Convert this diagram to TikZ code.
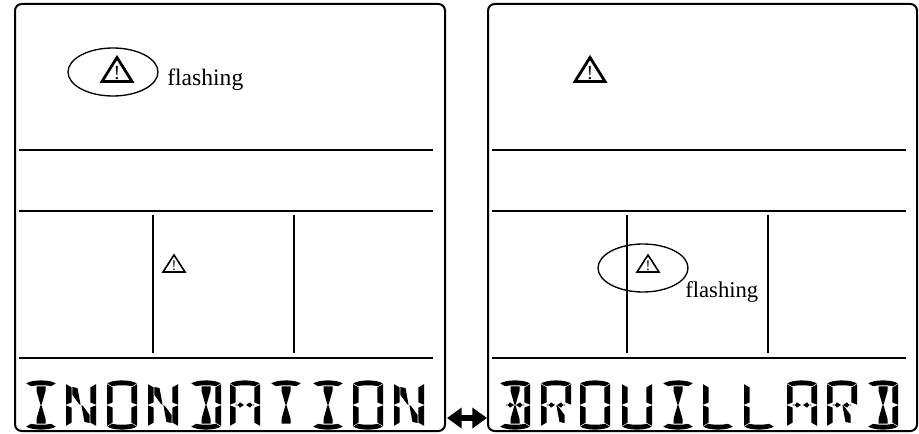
\documentclass[tikz,border=0pt]{standalone}
\usepackage{fontspec}
\setmainfont{Liberation Serif}
\usetikzlibrary{arrows.meta}
\tikzset{
  frame/.style={draw=black,line width=1.5pt,rounded corners=5pt},
  rule/.style={draw=black,line width=1.5pt},
  bubble/.style={draw=black,line width=1pt},
  flash/.style={font=\fontsize{#1}{#1}\selectfont,anchor=base,inner sep=0pt,text=black},
  warnbig/.style={draw=black,line width=2.1pt,miter limit=10},
  warnsmall/.style={draw=black,line width=1.2pt,miter limit=10},
  sega/.style={insert path={(0.3,3.4) .. controls (6,-0.6) and (24,-0.6) .. (29.7,3.4) -- (25,6.2) .. controls (20,5) and (10,5) .. (5,6.2) -- cycle}},
  segd/.style={insert path={(0.3,46.6) .. controls (6,50.6) and (24,50.6) .. (29.7,46.6) -- (25,43.8) .. controls (20,45) and (10,45) .. (5,43.8) -- cycle}},
  segf/.style={insert path={(0,4.2) -- (5.6,7.4) -- (5.6,22.4) -- (0,24.7) -- cycle}},
  sege/.style={insert path={(0,45.8) -- (5.6,42.6) -- (5.6,27.6) -- (0,25.3) -- cycle}},
  segb/.style={insert path={(30,4.2) -- (24.4,7.4) -- (24.4,22.4) -- (30,24.7) -- cycle}},
  segc/.style={insert path={(30,45.8) -- (24.4,42.6) -- (24.4,27.6) -- (30,25.3) -- cycle}},
  segi/.style={insert path={(10.5,6.3) -- (19.5,6.3) -- (19.5,11) -- (15.6,24.7) -- (14.4,24.7) -- (10.5,11) -- cycle}},
  segl/.style={insert path={(10.5,43.7) -- (19.5,43.7) -- (19.5,39) -- (15.6,25.3) -- (14.4,25.3) -- (10.5,39) -- cycle}},
  segh/.style={insert path={(6.4,7) -- (11.5,8) -- (14.6,24.7) -- (13.4,24.4) -- (6.4,15) -- cycle}},
  segm/.style={insert path={(23.6,43) -- (18.5,42) -- (15.4,25.3) -- (16.6,25.6) -- (23.6,35) -- cycle}},
  segg/.style={insert path={(5.6,24.6) -- (8,24.6) -- (10,22.4) -- (14,25) -- (10,27.6) -- (8,25.4) -- (5.6,25.4) -- cycle}},
  segk/.style={insert path={(24.4,24.6) -- (22,24.6) -- (20,22.4) -- (16,25) -- (20,27.6) -- (22,25.4) -- (24.4,25.4) -- cycle}},
}
\newcommand{\lcdglyph}[2]{%
  \begin{scope}[shift={(#1,380)}]
    \foreach \s in {#2}{\fill[black,seg\s];}
  \end{scope}}
\begin{document}
\begin{tikzpicture}[x=0.75pt,y=-0.75pt]
\useasboundingbox (0,0) rectangle (919,434);
% frames
\draw[frame] (15,4) rectangle (445,431);
\draw[frame] (488,4) rectangle (917,431);
% left rules
\draw[rule] (19,150) -- (433,150);
\draw[rule] (19,211) -- (433,211);
\draw[rule] (19,358) -- (433,358);
\draw[rule] (153,215) -- (153,353);
\draw[rule] (294,215) -- (294,353);
% right rules
\draw[rule] (492,150) -- (906,150);
\draw[rule] (492,211) -- (906,211);
\draw[rule] (492,358) -- (906,358);
\draw[rule] (627,215) -- (627,353);
\draw[rule] (768,215) -- (768,353);
% warnings
\draw[bubble] (113,72) ellipse [x radius=45,y radius=24];
\draw[warnbig] (117,57.5) -- (132,81.5) -- (102,81.5) -- cycle;
\node[flash=15pt] (w1) at (117,79.5) {!};
\node[flash=17.7pt,anchor=base west] (f1) at (167,85.5) {flashing};
\draw[warnbig] (590,57.5) -- (605,81.5) -- (575,81.5) -- cycle;
\node[flash=15pt] (w2) at (590,79.5) {!};
\draw[warnsmall] (174,255) -- (185,272) -- (163,272) -- cycle;
\node[flash=11pt] (w3) at (174,270.5) {!};
\draw[bubble] (643,268) ellipse [x radius=45,y radius=24];
\draw[warnsmall] (648,255) -- (659,272) -- (637,272) -- cycle;
\node[flash=11pt] (w4) at (648,270.5) {!};
\node[flash=17pt,anchor=base west] (f2) at (685,297.5) {flashing};
% arrow
\coordinate (al) at (447,418);
\coordinate (ar) at (487,418);
\draw[line width=3.8pt,{Triangle[length=11pt,width=15pt]}-{Triangle[length=11pt,width=15pt]}] (al) -- (ar);
% LCD left
\lcdglyph{26}{a,d,i,l}
\lcdglyph{66}{f,e,b,c,h,m}
\lcdglyph{107}{a,b,c,d,e,f}
\lcdglyph{148}{f,e,b,c,h,m}
\lcdglyph{191}{a,b,c,d,i,l}
\lcdglyph{230}{a,b,c,e,f,g,k}
\lcdglyph{271}{a,i,l}
\lcdglyph{313}{a,d,i,l}
\lcdglyph{353}{a,b,c,d,e,f}
\lcdglyph{394}{f,e,b,c,h,m}
% LCD right
\lcdglyph{500}{a,b,c,d,i,l,g,k}
\lcdglyph{541}{a,b,e,f,g,k,m}
\lcdglyph{580}{a,b,c,d,e,f}
\lcdglyph{622}{b,c,d,e,f}
\lcdglyph{663}{a,d,i,l}
\lcdglyph{703}{d,e,f}
\lcdglyph{744}{d,e,f}
\lcdglyph{787}{a,b,c,e,f,g,k}
\lcdglyph{827}{a,b,e,f,g,k,m}
\lcdglyph{868}{a,b,c,d,i,l}
\end{tikzpicture}
\end{document}
